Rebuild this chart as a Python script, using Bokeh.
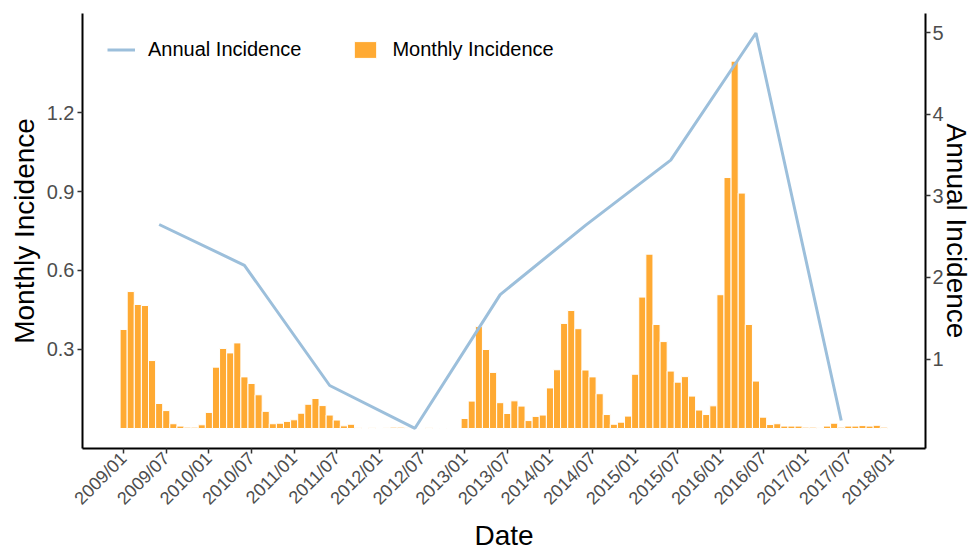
import math
from bokeh.plotting import figure
from bokeh.models import (Range1d, LinearAxis, FixedTicker, Legend, LegendItem,
                          ColumnDataSource)
from bokeh.embed import file_html
from bokeh.resources import INLINE

# ---- data ----
monthly_2009 = [0.376, 0.520, 0.471, 0.467, 0.258, 0.095, 0.068, 0.018, 0.009, 0.005, 0.005, 0.014]
monthly_2010 = [0.061, 0.233, 0.304, 0.287, 0.325, 0.196, 0.171, 0.128, 0.065, 0.018, 0.020, 0.027]
monthly_2011 = [0.033, 0.058, 0.092, 0.114, 0.087, 0.051, 0.032, 0.010, 0.016, 0.004, 0.001, 0.003]
monthly_2012 = [0.002, 0.003, 0.005, 0.005, 0.003, 0.002, 0.001, 0.003, 0.002, 0.000, 0.002, 0.002]
monthly_2013 = [0.038, 0.104, 0.387, 0.300, 0.213, 0.098, 0.057, 0.105, 0.085, 0.030, 0.046, 0.051]
monthly_2014 = [0.154, 0.223, 0.399, 0.448, 0.379, 0.222, 0.196, 0.132, 0.053, 0.016, 0.024, 0.047]
monthly_2015 = [0.206, 0.499, 0.662, 0.395, 0.330, 0.218, 0.176, 0.197, 0.123, 0.070, 0.053, 0.086]
monthly_2016 = [0.508, 0.953, 1.395, 0.894, 0.395, 0.180, 0.043, 0.015, 0.018, 0.009, 0.009, 0.009]
monthly_2017 = [0.005, 0.005, 0.004, 0.009, 0.020, 0.005, 0.009, 0.009, 0.011, 0.009, 0.012, 0.005]

years = [2009, 2010, 2011, 2012, 2013, 2014, 2015, 2016, 2017]
annual_incidence = [2.65, 2.15, 0.675, 0.15, 1.79, 2.64, 3.44, 5.0, 0.245]

tick_labels = ["2009/01", "2009/07", "2010/01", "2010/07", "2011/01", "2011/07",
               "2012/01", "2012/07", "2013/01", "2013/07", "2014/01", "2014/07",
               "2015/01", "2015/07", "2016/01", "2016/07", "2017/01", "2017/07",
               "2018/01"]
left_ticks = [0.3, 0.6, 0.9, 1.2]
right_ticks = [1, 2, 3, 4, 5]

# ---- build ----
monthly = (monthly_2009 + monthly_2010 + monthly_2011 + monthly_2012 + monthly_2013 +
           monthly_2014 + monthly_2015 + monthly_2016 + monthly_2017)
month_idx = list(range(len(monthly)))          # 0 = 2009/01
annual_x = [(y - 2009) * 12 + 5 for y in years]  # mid-year position
tick_pos = [6 * k for k in range(len(tick_labels))]

FONT = "Liberation Sans"

p = figure(width=974, height=554,
           x_range=Range1d(-5.79, 112.86), y_range=Range1d(-0.076, 1.576),
           output_backend="svg", toolbar_location=None,
           min_border_left=82, min_border_right=46, min_border_top=13,
           min_border_bottom=106)
p.extra_y_ranges = {"right": Range1d(-0.098, 5.239)}
p.xgrid.visible = False
p.ygrid.visible = False
p.outline_line_color = None
p.background_fill_color = "white"

src = ColumnDataSource(dict(x=month_idx, top=monthly))
bars = p.vbar(x="x", top="top", bottom=0, width=1.0, source=src,
              fill_color="#FFAA33", line_color="white", line_width=1.0)
line = p.line(annual_x, annual_incidence, y_range_name="right",
              line_color="#9CBFDB", line_width=3)

right_axis = LinearAxis(y_range_name="right", axis_label="Annual Incidence")
p.add_layout(right_axis, "right")

p.xaxis.ticker = FixedTicker(ticks=tick_pos)
p.xaxis.major_label_overrides = {t: l for t, l in zip(tick_pos, tick_labels)}
p.xaxis.major_label_orientation = math.pi / 4
p.xaxis.axis_label = "Date"

p.yaxis[0].ticker = FixedTicker(ticks=left_ticks)
p.yaxis[0].axis_label = "Monthly Incidence"
right_axis.ticker = FixedTicker(ticks=right_ticks)

for ax in [p.xaxis[0], p.yaxis[0], right_axis]:
    ax.axis_line_color = "black"
    ax.axis_line_width = 2
    ax.major_tick_line_color = "#333333"
    ax.major_tick_line_width = 1.5
    ax.major_tick_out = 5
    ax.major_tick_in = 0
    ax.minor_tick_line_color = None
    ax.major_label_text_font = FONT
    ax.major_label_text_font_size = "20px"
    ax.major_label_text_color = "#4D4D4D"
    ax.major_label_standoff = 3
    ax.axis_label_text_font = FONT
    ax.axis_label_text_font_size = "28px"
    ax.axis_label_text_font_style = "normal"
    ax.axis_label_text_color = "black"
    ax.axis_label_standoff = 4

p.xaxis[0].major_label_text_font_size = "18px"
p.xaxis[0].major_label_standoff = 2
p.xaxis[0].axis_label_standoff = 1

right_axis.major_label_standoff = 2
right_axis.axis_label_standoff = -6

legend = Legend(items=[LegendItem(label="Annual Incidence", renderers=[line]),
                       LegendItem(label="Monthly Incidence", renderers=[bars])],
                orientation="horizontal", location=(25, 387),
                border_line_color=None, background_fill_alpha=0,
                padding=0, margin=0, spacing=50, glyph_width=28, glyph_height=21,
                label_standoff=13, label_text_font=FONT,
                label_text_font_size="20px", label_text_color="black")
p.add_layout(legend)

open("out.html", "w").write(file_html(p, INLINE))
